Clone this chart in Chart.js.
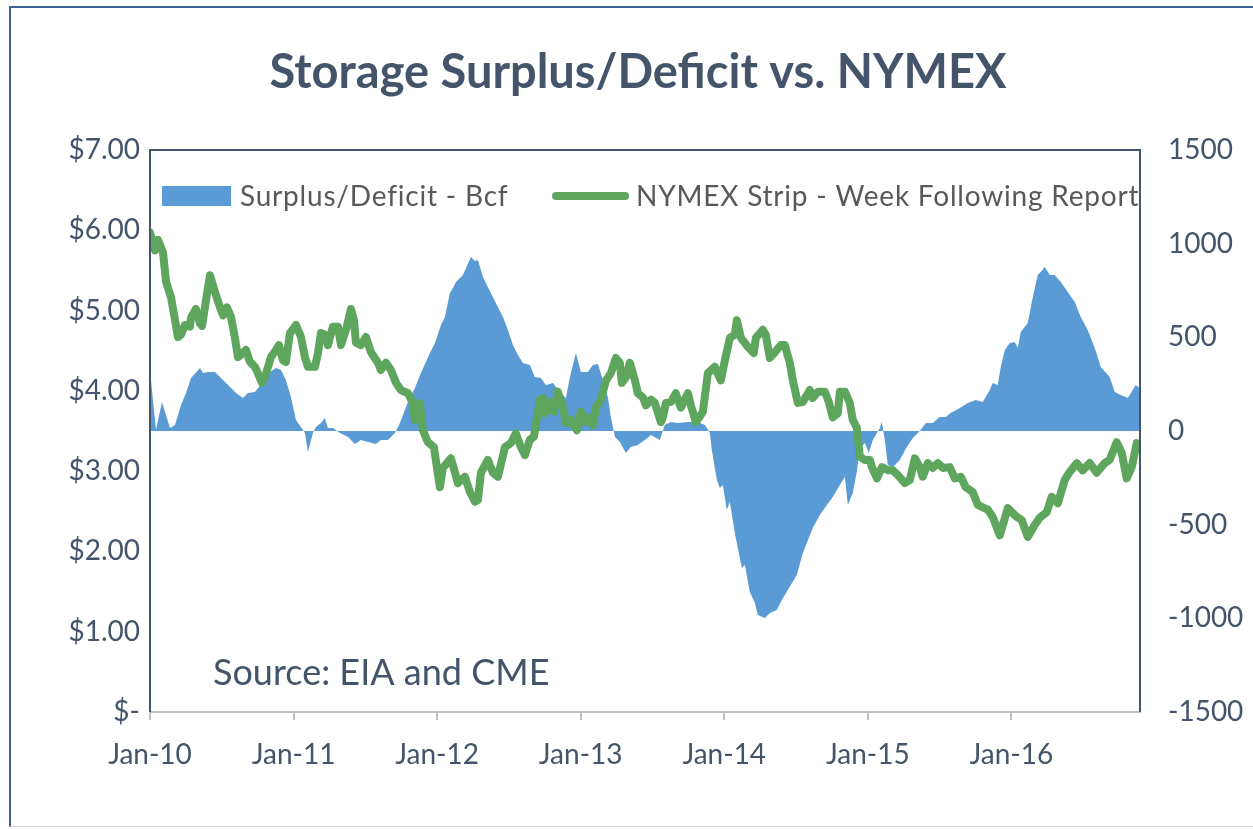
<!DOCTYPE html>
<html><head><meta charset="utf-8">
<script src="https://cdn.jsdelivr.net/npm/chart.js@4.4.1/dist/chart.umd.min.js"></script>
<style>
html,body{margin:0;padding:0;background:#fff;}
#wrap{position:relative;width:1253px;height:829px;overflow:hidden;background:#fff;}
#frame{position:absolute;left:9px;top:6px;width:1260px;height:821px;border-left:2px solid #3f5f92;border-top:2px solid #3f5f92;border-bottom:1px solid #d0d0d0;box-sizing:border-box;}
canvas{position:absolute;left:0;top:0;}
</style></head><body>
<div id="wrap"><div id="frame"></div><canvas id="c" width="1253" height="829"></canvas></div>
<script>
// ---- data (x = months since Jan 2010) ----
const titleText = 'Storage Surplus/Deficit vs. NYMEX';
const sourceText = 'Source: EIA and CME';
const legendLabels = ['Surplus/Deficit - Bcf', 'NYMEX Strip - Week Following Report'];
const xTickMonths = [0, 12, 24, 36, 48, 60, 72];
const xTickLabels = ['Jan-10', 'Jan-11', 'Jan-12', 'Jan-13', 'Jan-14', 'Jan-15', 'Jan-16'];
const leftTickValues = [0, 1, 2, 3, 4, 5, 6, 7];
const leftTickLabels = ['$-', '$1.00', '$2.00', '$3.00', '$4.00', '$5.00', '$6.00', '$7.00'];
const rightTickValues = [-1500, -1000, -500, 0, 500, 1000, 1500];
const rightTickLabels = ['-1500', '-1000', '-500', '0', '500', '1000', '1500'];

// NYMEX strip ($/MMBtu), [month, value]
const nymexPoints = [
[0,5.97],[0.42,5.75],[0.67,5.88],[1.09,5.72],[1.34,5.36],[1.75,5.17],[2.34,4.67],[2.59,4.70],[2.92,4.82],[3.34,4.80],
[3.43,4.91],[3.84,5.02],[4.18,4.84],[4.35,4.81],[5.01,5.44],[5.43,5.23],[5.85,5.04],[6.10,4.94],[6.43,5.04],[6.77,4.92],
[7.10,4.66],[7.35,4.42],[7.60,4.45],[8.02,4.51],[8.36,4.36],[8.77,4.30],[9.02,4.22],[9.36,4.10],[9.61,4.17],[10.11,4.42],
[10.53,4.51],[10.78,4.57],[11.11,4.38],[11.36,4.36],[11.70,4.72],[12.20,4.82],[12.62,4.67],[12.95,4.42],[13.20,4.30],[13.79,4.30],
[14.04,4.47],[14.29,4.72],[14.62,4.70],[14.87,4.57],[15.29,4.80],[15.71,4.80],[15.96,4.57],[16.38,4.76],[16.80,5.02],[17.05,4.88],
[17.21,4.60],[17.63,4.57],[18.05,4.67],[18.47,4.48],[19.05,4.35],[19.30,4.26],[19.72,4.35],[20.14,4.26],[20.56,4.10],[20.97,4.01],
[21.56,3.97],[21.98,3.85],[22.14,3.64],[22.56,3.85],[22.81,3.51],[23.23,3.36],[23.73,3.30],[24.23,2.80],[24.48,3.04],[25.15,3.16],
[25.74,2.85],[26.32,2.93],[26.74,2.74],[27.16,2.62],[27.41,2.64],[27.66,2.98],[28.24,3.14],[28.66,2.98],[29.08,2.93],[29.67,3.30],
[30.17,3.35],[30.58,3.47],[31.00,3.30],[31.34,3.20],[31.75,3.39],[32.09,3.43],[32.59,3.89],[32.84,3.91],[33.01,3.72],[33.43,3.86],
[33.76,3.74],[34.09,3.99],[34.51,3.80],[34.76,3.60],[35.18,3.64],[35.68,3.51],[36.02,3.74],[36.35,3.61],[36.60,3.67],[37.02,3.57],
[37.27,3.79],[37.69,3.89],[38.11,4.13],[38.52,4.22],[38.94,4.41],[39.27,4.35],[39.44,4.10],[39.78,4.17],[40.11,4.35],[40.53,4.13],
[40.78,3.97],[41.20,3.92],[41.45,3.82],[41.87,3.89],[42.20,3.85],[42.70,3.61],[42.87,3.67],[43.12,3.85],[43.54,3.86],[43.95,3.97],
[44.37,3.79],[44.96,3.97],[45.21,3.82],[45.63,3.61],[46.21,3.74],[46.63,4.22],[47.21,4.30],[47.71,4.13],[48.05,4.38],[48.47,4.66],
[48.88,4.70],[49.05,4.88],[49.39,4.66],[49.97,4.55],[50.47,4.47],[50.64,4.66],[51.22,4.76],[51.47,4.70],[51.81,4.41],[52.23,4.48],
[52.73,4.57],[53.06,4.57],[53.48,4.35],[53.73,4.13],[54.15,3.85],[54.57,3.86],[55.15,4.01],[55.40,3.91],[55.82,3.99],[56.41,3.99],
[56.74,3.86],[57.07,3.67],[57.49,3.72],[57.66,3.99],[58.08,3.99],[58.49,3.85],[58.74,3.64],[59.08,3.54],[59.33,3.18],[59.75,3.14],
[60.17,3.14],[60.34,3.05],[60.76,2.91],[61.18,3.05],[61.68,3.01],[62.09,3.01],[62.51,2.95],[63.09,2.85],[63.51,2.89],[63.93,3.16],
[64.34,3.05],[64.59,2.93],[65.01,3.10],[65.43,3.04],[65.85,3.10],[66.27,3.04],[66.85,3.05],[67.27,2.91],[67.77,2.93],[68.19,2.80],
[68.77,2.74],[69.19,2.58],[69.61,2.55],[70.03,2.52],[70.44,2.43],[71.03,2.20],[71.70,2.54],[72.45,2.43],[72.87,2.39],[73.37,2.18],
[73.95,2.33],[74.37,2.42],[74.96,2.49],[75.37,2.68],[75.88,2.60],[76.46,2.89],[76.88,2.99],[77.46,3.10],[77.96,3.01],[78.55,3.10],
[79.13,2.98],[79.80,3.10],[80.22,3.14],[80.80,3.36],[81.22,3.23],[81.64,2.91],[82.06,3.05],[82.48,3.35]
];

// Storage surplus/deficit (Bcf), [month, value]
const storagePoints = [
[0,315],[0.08,272],[0.50,5],[1.00,155],[1.67,16],[2.09,32],[2.59,139],[3.01,203],[3.43,283],[4.18,336],
[4.43,310],[4.85,315],[5.43,315],[5.85,288],[6.69,235],[7.19,203],[7.77,176],[8.19,203],[8.77,208],[9.44,262],
[10.03,315],[10.53,336],[10.95,326],[11.36,272],[11.78,181],[12.20,59],[12.62,21],[12.95,-11],[13.20,-112],[13.62,-11],
[13.87,21],[14.29,43],[14.62,69],[14.87,16],[15.29,16],[15.88,-11],[16.55,-32],[17.13,-69],[17.63,-48],[18.22,-59],
[18.89,-69],[19.30,-48],[19.89,-48],[20.47,-11],[20.89,43],[21.56,155],[22.14,230],[22.65,310],[23.40,416],[23.82,470],
[24.32,566],[24.65,609],[25.07,737],[25.32,763],[25.57,795],[26.16,833],[26.82,929],[27.16,907],[27.41,913],[27.83,822],
[28.24,769],[28.66,715],[29.08,662],[29.50,609],[29.92,539],[30.33,459],[30.75,406],[31.17,363],[31.75,352],[32.17,288],
[32.67,283],[33.09,246],[33.68,256],[34.26,208],[34.76,176],[35.10,288],[35.60,416],[36.02,315],[36.60,315],[37.02,352],
[37.44,358],[37.85,272],[38.27,181],[38.52,75],[38.86,-32],[39.27,-59],[39.78,-117],[40.19,-85],[40.78,-75],[41.36,-48],
[41.87,-21],[42.62,-48],[43.03,32],[43.54,48],[44.12,43],[44.96,48],[45.79,48],[46.38,32],[46.80,-11],[46.96,-101],
[47.38,-262],[47.63,-304],[47.88,-288],[48.21,-422],[48.47,-379],[48.88,-544],[49.47,-731],[49.72,-715],[50.14,-859],[50.56,-918],
[50.81,-982],[51.39,-998],[51.81,-972],[52.39,-955],[52.81,-902],[53.31,-849],[54.06,-769],[54.57,-651],[55.40,-518],[55.99,-448],
[56.57,-395],[57.07,-352],[57.66,-288],[58.08,-246],[58.33,-395],[58.74,-331],[59.08,-219],[59.33,-91],[59.75,-64],[60.08,-117],
[60.42,-48],[61.00,16],[61.17,48],[61.42,-48],[61.67,-181],[62.09,-192],[62.67,-155],[63.26,-85],[63.76,-37],[64.34,0],
[64.85,43],[65.43,43],[66.01,75],[66.52,75],[66.93,96],[67.69,123],[68.35,149],[69.02,165],[69.61,155],[70.19,219],
[70.44,256],[70.86,246],[71.11,342],[71.45,432],[71.86,470],[72.28,475],[72.53,443],[72.78,528],[73.37,576],[73.79,715],
[74.20,833],[74.45,849],[74.79,875],[75.21,833],[75.62,833],[76.13,795],[76.71,742],[77.30,689],[77.80,609],[78.38,539],
[78.97,443],[79.47,342],[80.22,288],[80.64,208],[81.14,192],[81.73,176],[82.39,246],[82.73,230]
];

const FONT = 'Lato, "Open Sans", sans-serif';
const TEXT = '#44546a';
const BLUE = '#5b9bd5';
const GREEN = '#5ea55e';

const decor = {
  id: 'decor',
  afterDraw(chart) {
    const ctx = chart.ctx, a = chart.chartArea;
    ctx.save();
    // plot area frame (left, top, right)
    ctx.strokeStyle = TEXT; ctx.lineWidth = 2;
    ctx.beginPath();
    ctx.moveTo(a.left, a.bottom); ctx.lineTo(a.left, a.top); ctx.lineTo(a.right, a.top); ctx.lineTo(a.right, a.bottom);
    ctx.stroke();
    // title
    ctx.fillStyle = TEXT; ctx.textAlign = 'center'; ctx.textBaseline = 'alphabetic';
    ctx.font = 'bold 47px ' + FONT;
    ctx.fillText(titleText, 638, 88);
    // legend
    ctx.textAlign = 'left';
    ctx.fillStyle = BLUE; ctx.fillRect(162, 186, 69, 20);
    ctx.fillStyle = '#595959'; ctx.font = '28px ' + FONT;
    ctx.letterSpacing = '0.8px';
    ctx.fillText(legendLabels[0], 240, 206);
    ctx.strokeStyle = GREEN; ctx.lineWidth = 8; ctx.lineCap = 'round';
    ctx.beginPath(); ctx.moveTo(556, 196); ctx.lineTo(625, 196); ctx.stroke();
    ctx.fillText(legendLabels[1], 636, 206);
    ctx.letterSpacing = '0px';
    // source note
    ctx.fillStyle = TEXT; ctx.font = '36px ' + FONT;
    ctx.fillText(sourceText, 213, 685);
    ctx.restore();
  }
};

new Chart(document.getElementById('c'), {
  type: 'line',
  data: {
    datasets: [
      { label: legendLabels[1], data: nymexPoints.map(p => ({ x: p[0], y: p[1] })), yAxisID: 'y',
        borderColor: GREEN, borderWidth: 8, pointRadius: 0, fill: false, tension: 0,
        borderJoinStyle: 'round', borderCapStyle: 'round' },
      { label: legendLabels[0], data: storagePoints.map(p => ({ x: p[0], y: p[1] })), yAxisID: 'y2',
        backgroundColor: BLUE, borderColor: BLUE, borderWidth: 0, pointRadius: 0, fill: 'origin', tension: 0 }
    ]
  },
  options: {
    responsive: false, animation: false, devicePixelRatio: 1,
    layout: { padding: { top: 150, left: 0, right: 0, bottom: 0 } },
    plugins: { legend: { display: false }, title: { display: false }, tooltip: { enabled: false } },
    scales: {
      x: {
        type: 'linear', min: 0, max: 82.75,
        afterBuildTicks: s => { s.ticks = xTickMonths.map(v => ({ value: v })); },
        afterFit: s => { s.height = 117; },
        ticks: { callback: (v, i) => xTickLabels[i], font: { family: FONT, size: 28 }, color: TEXT,
                 padding: 18, maxRotation: 0, autoSkip: false },
        grid: { drawOnChartArea: false, drawTicks: true, tickLength: 8, color: '#bfbfbf', lineWidth: 2 },
        border: { color: '#bfbfbf', width: 2 }
      },
      y: {
        position: 'left', min: 0, max: 7,
        afterBuildTicks: s => { s.ticks = leftTickValues.map(v => ({ value: v })); },
        afterFit: s => { s.width = 150; },
        ticks: { callback: (v, i) => leftTickLabels[i], font: { family: FONT, size: 28 }, color: TEXT, padding: 10 },
        grid: { display: false, drawTicks: false },
        border: { display: false }
      },
      y2: {
        position: 'right', min: -1500, max: 1500,
        afterBuildTicks: s => { s.ticks = rightTickValues.map(v => ({ value: v })); },
        afterFit: s => { s.width = 113; },
        ticks: { callback: (v, i) => rightTickLabels[i], font: { family: FONT, size: 28 }, color: TEXT, padding: 28 },
        grid: { display: false, drawTicks: false },
        border: { display: false }
      }
    }
  },
  plugins: [decor]
});
</script></body></html>
